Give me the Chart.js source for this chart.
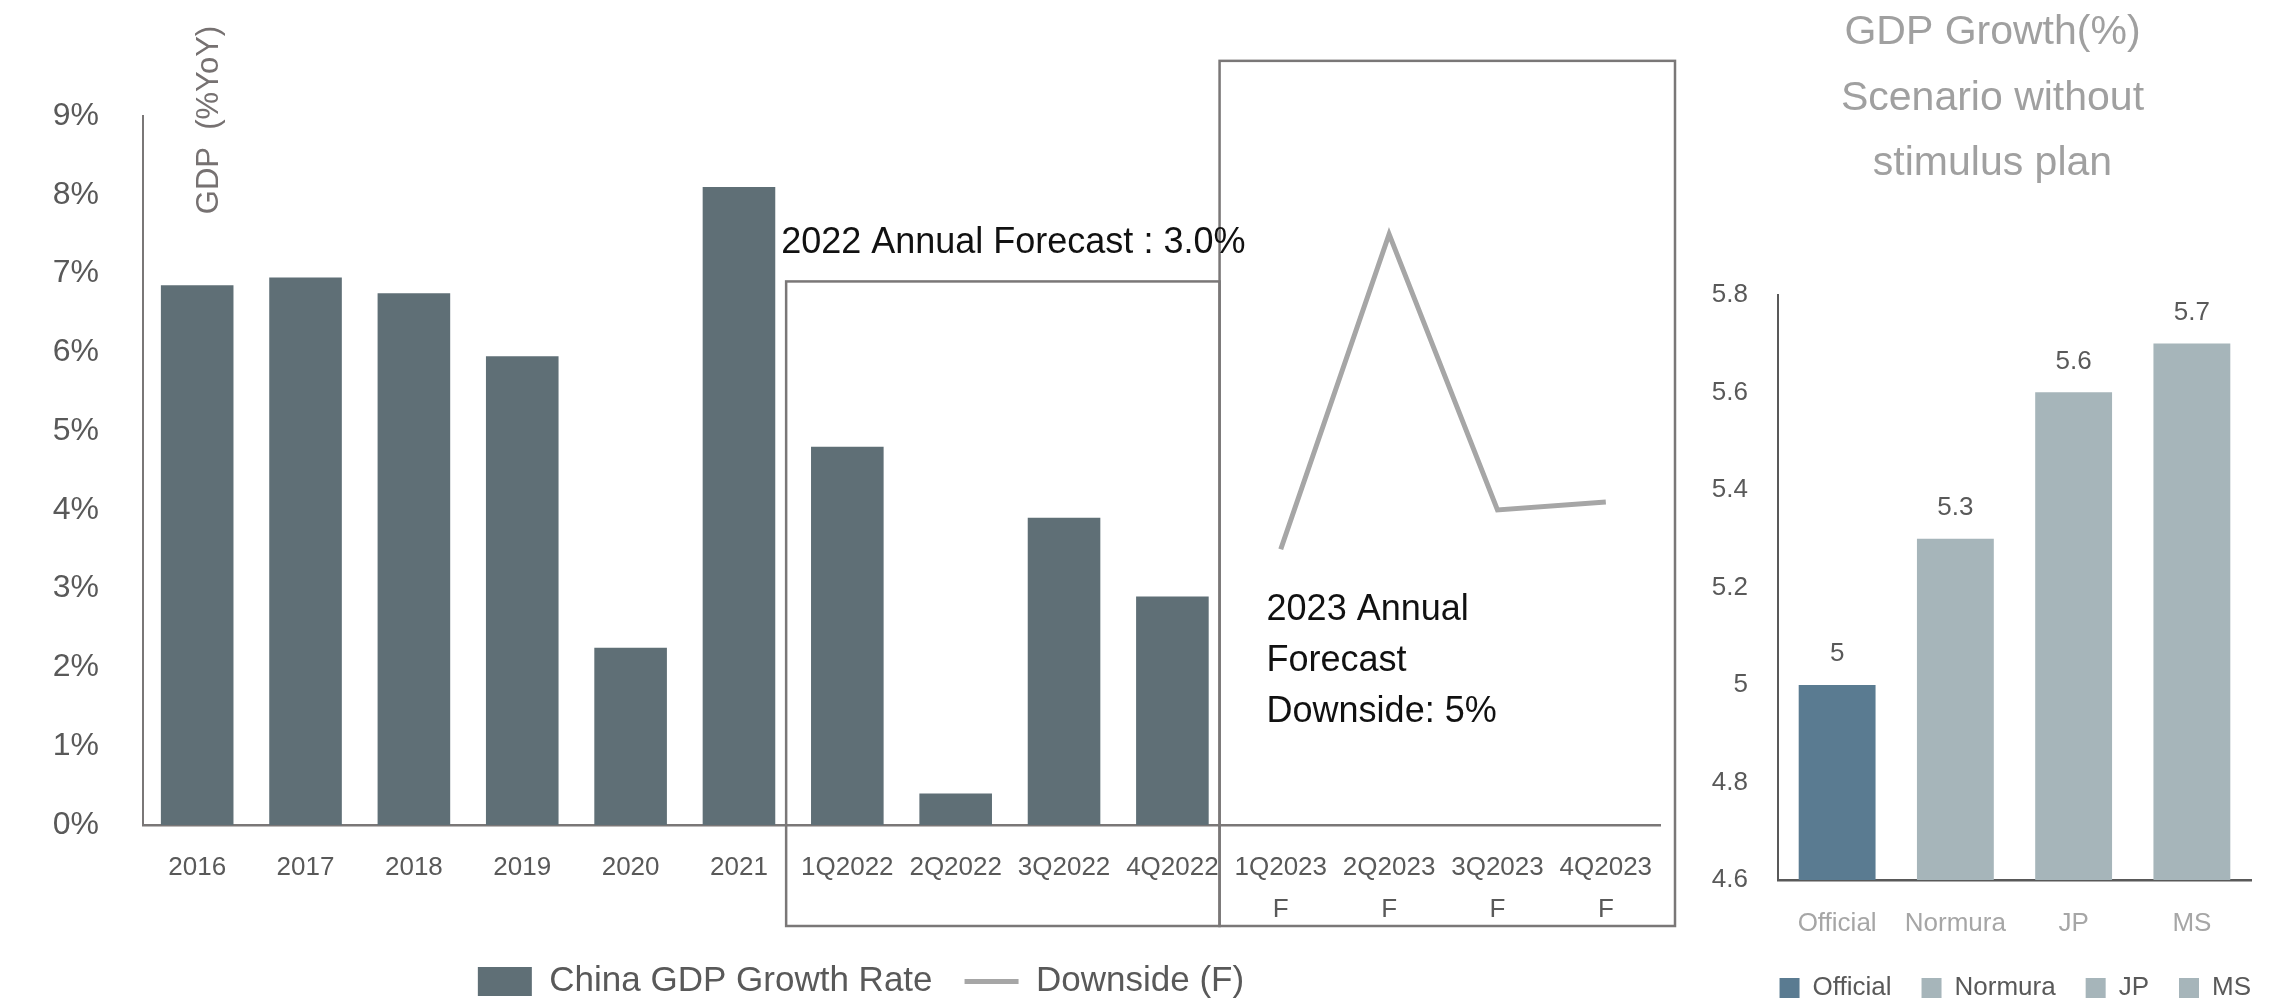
<!DOCTYPE html>
<html>
<head>
<meta charset="utf-8">
<title>China GDP growth</title>
<script src="https://cdn.jsdelivr.net/npm/chart.js@4.4.1/dist/chart.umd.min.js"></script>
<style>
  html, body { margin:0; padding:0; background:#fff; overflow:hidden; width:2289px; height:1001px; }
  .panel { position:absolute; top:0; }
  #leftPanel { left:0; }
  #rightPanel { left:1704px; }
</style>
</head>
<body>
<div class="panel" id="leftPanel"><canvas id="gdpChart" width="1730" height="1009"></canvas></div>
<div class="panel" id="rightPanel"><canvas id="scenarioChart" width="585" height="1011"></canvas></div>
<script>
// ---- data: main chart ----
const periods = ['2016','2017','2018','2019','2020','2021','1Q2022','2Q2022','3Q2022','4Q2022','1Q2023','2Q2023','3Q2023','4Q2023'];
const forecastMark = ['','','','','','','','','','','F','F','F','F'];
const growthRate = [6.85, 6.95, 6.75, 5.95, 2.25, 8.1, 4.8, 0.4, 3.9, 2.9, null, null, null, null];
const downside = [null, null, null, null, null, null, null, null, null, null, 3.5, 7.5, 4.0, 4.1];
const leftYTicks = [0, 1, 2, 3, 4, 5, 6, 7, 8, 9];

// ---- data: scenario chart ----
const houses = ['Official', 'Normura', 'JP', 'MS'];
const scenarioGrowth = [5, 5.3, 5.6, 5.7];
const rightYTicks = [4.6, 4.8, 5, 5.2, 5.4, 5.6, 5.8];

const FONT = "'Liberation Sans', Arial, Helvetica, sans-serif";
const BAR_DARK = '#5f6f76';
const LINE_GREY = '#a6a6a6';
const TICK_GREY = '#595959';
const FRAME_GREY = '#7a7777';
const houseColors = ['#5a7b91', '#a6b5ba', '#a6b5ba', '#a6b5ba'];

const xLabels = periods.map((p, i) => forecastMark[i] ? [p, forecastMark[i]] : p);

// empty right-hand scale, only reserves room so legend/title sit where wanted
const gutter = w => ({
  type: 'linear', position: 'right', display: true,
  grid: { display: false, drawTicks: false },
  border: { display: false },
  ticks: { display: false },
  afterFit(scale){ scale.width = w; }
});

// forecast frames, given by category range and top value
const frames = [
  { from: '1Q2022', to: '4Q2022', top: 6.9, extraRight: 0 },
  { from: '1Q2023', to: '4Q2023', top: 9.7, extraRight: 22 }
];

const forecastNotes = {
  id: 'forecastNotes',
  afterDatasetsDraw(chart){
    const { ctx, chartArea, scales: { x, y } } = chart;
    const half = (x.getPixelForValue(1) - x.getPixelForValue(0)) / 2;
    const boxBottom = chartArea.bottom + 101;
    const rects = frames.map(f => {
      const left = x.getPixelForValue(periods.indexOf(f.from)) - half - 7;
      const right = x.getPixelForValue(periods.indexOf(f.to)) + half - 7 + f.extraRight;
      return { left, right, top: y.getPixelForValue(f.top) };
    });

    ctx.save();
    ctx.strokeStyle = FRAME_GREY;
    ctx.lineWidth = 2.5;
    rects.forEach(r => ctx.strokeRect(r.left, r.top, r.right - r.left, boxBottom - r.top));

    ctx.fillStyle = '#111';
    ctx.font = '36px ' + FONT;
    ctx.textAlign = 'left';
    ctx.textBaseline = 'middle';
    ctx.fillText('2022 Annual Forecast : 3.0%', rects[0].left - 5, rects[0].top - 38);
    const lines = ['2023 Annual', 'Forecast', 'Downside: 5%'];
    const y0 = y.getPixelForValue(2.73);
    lines.forEach((t, i) => ctx.fillText(t, rects[1].left + 47, y0 + i * 51));

    // axis title sits inside the plot, rotated
    ctx.fillStyle = '#767171';
    ctx.font = '31px ' + FONT;
    ctx.translate(chartArea.left + 66, chartArea.top + 4);
    ctx.rotate(-Math.PI / 2);
    ctx.textAlign = 'center';
    ctx.fillText('GDP  (%YoY)', 0, 0);
    ctx.restore();
  }
};

new Chart(document.getElementById('gdpChart'), {
  data: {
    labels: xLabels,
    datasets: [
      {
        type: 'bar',
        label: 'China GDP Growth Rate',
        data: growthRate,
        backgroundColor: BAR_DARK,
        borderWidth: 0,
        barPercentage: 0.67,
        categoryPercentage: 1,
        pointStyle: 'rect',
        order: 2
      },
      {
        type: 'line',
        label: 'Downside (F)',
        data: downside,
        borderColor: LINE_GREY,
        backgroundColor: LINE_GREY,
        borderWidth: 5,
        pointRadius: 0,
        tension: 0,
        fill: false,
        pointStyle: 'line',
        order: 1
      }
    ]
  },
  options: {
    responsive: false,
    animation: false,
    layout: { padding: { top: 116, right: 8, left: 0, bottom: 0 } },
    plugins: {
      tooltip: { enabled: false },
      legend: {
        position: 'bottom',
        labels: {
          usePointStyle: true,
          pointStyleWidth: 54,
          boxHeight: 29,
          padding: 32,
          color: TICK_GREY,
          font: { family: FONT, size: 35 },
          sort: (a, b) => a.datasetIndex - b.datasetIndex
        }
      }
    },
    scales: {
      x: {
        grid: { display: false, drawTicks: false },
        border: { display: true, color: FRAME_GREY, width: 2.5 },
        ticks: {
          autoSkip: false, maxRotation: 0, padding: 22,
          color: TICK_GREY,
          font: { family: FONT, size: 26, lineHeight: 1.6 }
        },
        afterFit(scale){ scale.height = 107; }
      },
      y: {
        min: 0, max: 9,
        afterBuildTicks(scale){ scale.ticks = leftYTicks.map(v => ({ value: v })); },
        grid: { display: false, drawTicks: false },
        border: { display: true, color: FRAME_GREY, width: 2 },
        ticks: {
          padding: 44,
          color: TICK_GREY,
          font: { family: FONT, size: 32 },
          callback: v => v + '%'
        },
        afterFit(scale){ scale.width = 143; }
      },
      gutter: gutter(62)
    }
  },
  plugins: [forecastNotes]
});

// value labels above the scenario bars
const valueLabels = {
  id: 'valueLabels',
  afterDatasetsDraw(chart){
    const { ctx } = chart;
    const meta = chart.getDatasetMeta(0);
    ctx.save();
    ctx.fillStyle = TICK_GREY;
    ctx.font = '26px ' + FONT;
    ctx.textAlign = 'center';
    ctx.textBaseline = 'middle';
    meta.data.forEach((bar, i) => ctx.fillText(String(scenarioGrowth[i]), bar.x, bar.y - 31));
    ctx.restore();
  }
};

new Chart(document.getElementById('scenarioChart'), {
  type: 'bar',
  data: {
    labels: houses,
    datasets: [{
      label: 'GDP Growth(%)',
      data: scenarioGrowth,
      backgroundColor: houseColors,
      borderWidth: 0,
      barPercentage: 0.65,
      categoryPercentage: 1
    }]
  },
  options: {
    responsive: false,
    animation: false,
    layout: { padding: { top: 0, right: 8, left: 0, bottom: 0 } },
    plugins: {
      tooltip: { enabled: false },
      title: {
        display: true,
        text: ['GDP Growth(%)', 'Scenario without', 'stimulus plan'],
        color: '#a0a0a0',
        font: { family: FONT, size: 41, weight: 'normal', lineHeight: 1.6 },
        padding: { top: 0, bottom: 98 }
      },
      legend: {
        position: 'bottom',
        align: 'end',
        labels: {
          boxWidth: 20,
          boxHeight: 20,
          padding: 30,
          color: TICK_GREY,
          font: { family: FONT, size: 26 },
          generateLabels: () => houses.map((h, i) => ({
            text: h,
            fillStyle: houseColors[i],
            strokeStyle: houseColors[i],
            lineWidth: 0,
            fontColor: TICK_GREY,
            hidden: false,
            index: i
          }))
        },
        onClick: () => {}
      }
    },
    scales: {
      x: {
        grid: { display: false, drawTicks: false },
        border: { display: true, color: TICK_GREY, width: 2.5 },
        ticks: {
          padding: 28,
          color: '#a6a6a6',
          font: { family: FONT, size: 26 }
        },
        afterFit(scale){ scale.height = 65; }
      },
      y: {
        min: 4.6, max: 5.8,
        afterBuildTicks(scale){ scale.ticks = rightYTicks.map(v => ({ value: v })); },
        grid: { display: false, drawTicks: false },
        border: { display: true, color: TICK_GREY, width: 2 },
        ticks: {
          padding: 30,
          color: TICK_GREY,
          font: { family: FONT, size: 26 },
          callback: v => String(Number(v.toFixed(1)))
        },
        afterFit(scale){ scale.width = 74; }
      },
      gutter: gutter(30)
    }
  },
  plugins: [valueLabels]
});
</script>
</body>
</html>
